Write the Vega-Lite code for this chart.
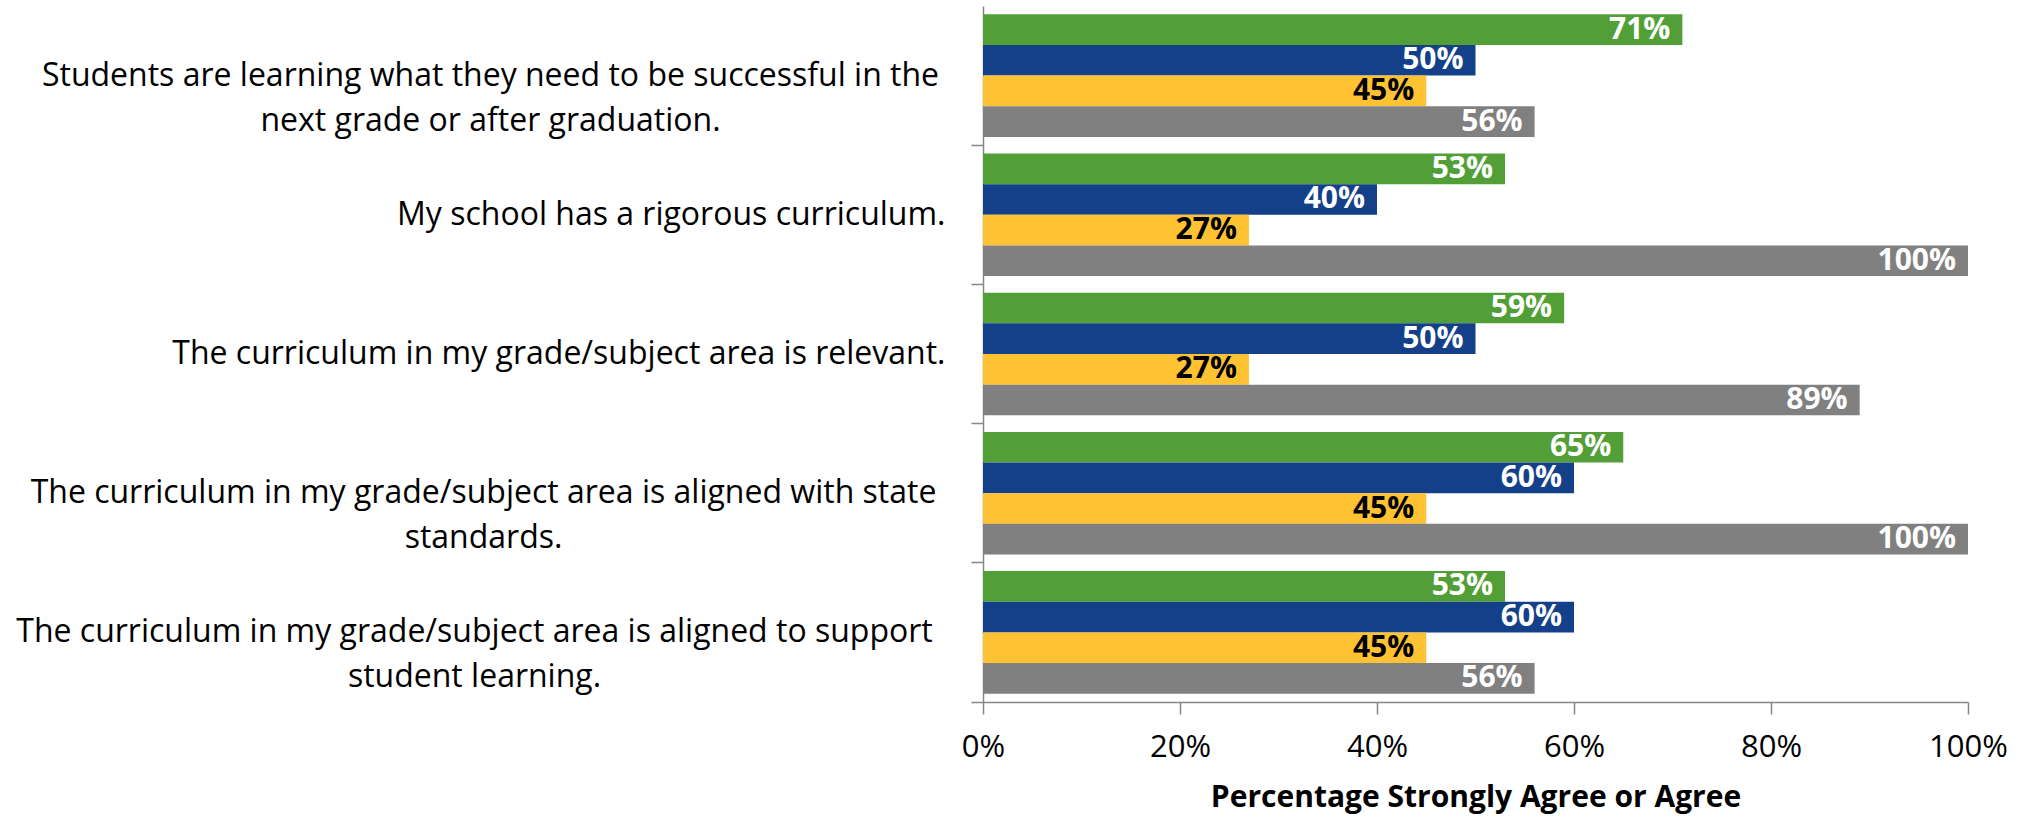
{
  "$schema": "https://vega.github.io/schema/vega-lite/v6.json",
  "autosize": {"type": "none"},
  "padding": {"left": 983, "top": 6, "right": 60, "bottom": 123},
  "width": 985,
  "height": 696,
  "background": "white",
  "config": {"view": {"stroke": null}, "font": "Open Sans"},
  "data": {
    "values": [
      {"item": "Students are learning what they need to be successful in the next grade or after graduation.", "series": "Series 1", "value": 0.71},
      {"item": "Students are learning what they need to be successful in the next grade or after graduation.", "series": "Series 2", "value": 0.50},
      {"item": "Students are learning what they need to be successful in the next grade or after graduation.", "series": "Series 3", "value": 0.45},
      {"item": "Students are learning what they need to be successful in the next grade or after graduation.", "series": "Series 4", "value": 0.56},
      {"item": "My school has a rigorous curriculum.", "series": "Series 1", "value": 0.53},
      {"item": "My school has a rigorous curriculum.", "series": "Series 2", "value": 0.40},
      {"item": "My school has a rigorous curriculum.", "series": "Series 3", "value": 0.27},
      {"item": "My school has a rigorous curriculum.", "series": "Series 4", "value": 1.00},
      {"item": "The curriculum in my grade/subject area is relevant.", "series": "Series 1", "value": 0.59},
      {"item": "The curriculum in my grade/subject area is relevant.", "series": "Series 2", "value": 0.50},
      {"item": "The curriculum in my grade/subject area is relevant.", "series": "Series 3", "value": 0.27},
      {"item": "The curriculum in my grade/subject area is relevant.", "series": "Series 4", "value": 0.89},
      {"item": "The curriculum in my grade/subject area is aligned with state standards.", "series": "Series 1", "value": 0.65},
      {"item": "The curriculum in my grade/subject area is aligned with state standards.", "series": "Series 2", "value": 0.60},
      {"item": "The curriculum in my grade/subject area is aligned with state standards.", "series": "Series 3", "value": 0.45},
      {"item": "The curriculum in my grade/subject area is aligned with state standards.", "series": "Series 4", "value": 1.00},
      {"item": "The curriculum in my grade/subject area is aligned to support student learning.", "series": "Series 1", "value": 0.53},
      {"item": "The curriculum in my grade/subject area is aligned to support student learning.", "series": "Series 2", "value": 0.60},
      {"item": "The curriculum in my grade/subject area is aligned to support student learning.", "series": "Series 3", "value": 0.45},
      {"item": "The curriculum in my grade/subject area is aligned to support student learning.", "series": "Series 4", "value": 0.56}
    ]
  },
  "encoding": {
    "y": {
      "field": "item",
      "type": "nominal",
      "sort": null,
      "scale": {
        "domain": [
          "Students are learning what they need to be successful in the next grade or after graduation.",
          "My school has a rigorous curriculum.",
          "The curriculum in my grade/subject area is relevant.",
          "The curriculum in my grade/subject area is aligned with state standards.",
          "The curriculum in my grade/subject area is aligned to support student learning."
        ],
        "paddingInner": 0,
        "paddingOuter": 0
      },
      "axis": {
        "title": null,
        "bandPosition": 1,
        "tickSize": 12,
        "tickColor": "#868686",
        "tickWidth": 1.5,
        "domainColor": "#868686",
        "domainWidth": 1.5,
        "labelFont": "Open Sans",
        "labelFontSize": 32,
        "labelColor": "black",
        "labelLimit": 1000,
        "labelLineHeight": 45,
        "labelBaseline": "middle",
        "labelAlign": {"expr": "datum.value == 'My school has a rigorous curriculum.' || datum.value == 'The curriculum in my grade/subject area is relevant.' ? 'right' : 'center'"},
        "labelPadding": {"expr": "datum.value == 'My school has a rigorous curriculum.' || datum.value == 'The curriculum in my grade/subject area is relevant.' ? 26 : (indexof(datum.value, 'Students') == 0 ? 481 : (indexof(datum.value, 'state') > 0 ? 488 : 497))"},
        "labelExpr": "indexof(datum.value, 'Students') == 0 ? ['Students are learning what they need to be successful in the', 'next grade or after graduation.'] : (indexof(datum.value, 'with state') > 0 ? ['The curriculum in my grade/subject area is aligned with state', 'standards.'] : (indexof(datum.value, 'to support') > 0 ? ['The curriculum in my grade/subject area is aligned to support', 'student learning.'] : datum.value))"
      }
    },
    "x": {
      "field": "value",
      "type": "quantitative",
      "scale": {"domain": [0, 1], "nice": false},
      "axis": {
        "title": "Percentage Strongly Agree or Agree",
        "titleFont": "Open Sans",
        "titleFontSize": 30,
        "titleFontWeight": "bold",
        "titleColor": "black",
        "titlePadding": 20,
        "format": ".0%",
        "values": [0, 0.2, 0.4, 0.6, 0.8, 1],
        "grid": false,
        "tickSize": 12,
        "tickColor": "#868686",
        "tickWidth": 1.5,
        "domainColor": "#868686",
        "domainWidth": 1.5,
        "labelFont": "Open Sans",
        "labelFontSize": 31,
        "labelColor": "black",
        "labelPadding": 18,
        "labelFlush": false
      }
    }
  },
  "layer": [
    {
      "mark": {"type": "bar"},
      "encoding": {
        "yOffset": {
          "field": "series",
          "type": "nominal",
          "sort": ["Series 1", "Series 2", "Series 3", "Series 4"],
          "scale": {"paddingInner": 0, "paddingOuter": 0.27}
        },
        "color": {
          "field": "series",
          "type": "nominal",
          "scale": {"domain": ["Series 1", "Series 2", "Series 3", "Series 4"], "range": ["#529F37", "#14408A", "#FEC232", "#808080"]},
          "legend": null
        }
      }
    },
    {
      "mark": {"type": "text", "align": "right", "baseline": "middle", "dx": -12, "font": "Open Sans", "fontSize": 30, "fontWeight": "bold"},
      "encoding": {
        "yOffset": {
          "field": "series",
          "type": "nominal",
          "sort": ["Series 1", "Series 2", "Series 3", "Series 4"],
          "scale": {"paddingInner": 0, "paddingOuter": 0.27}
        },
        "text": {"field": "value", "type": "quantitative", "format": ".0%"},
        "color": {"condition": {"test": "datum.series == 'Series 3'", "value": "black"}, "value": "white"}
      }
    },
    {
      "data": {"values": [{"edge": "top"}]},
      "mark": {"type": "rule", "color": "#868686", "strokeWidth": 1.5},
      "encoding": {
        "y": {"datum": "Students are learning what they need to be successful in the next grade or after graduation.", "type": "nominal", "bandPosition": 0},
        "x": {"datum": 0},
        "x2": {"datum": -0.0122}
      }
    }
  ]
}
